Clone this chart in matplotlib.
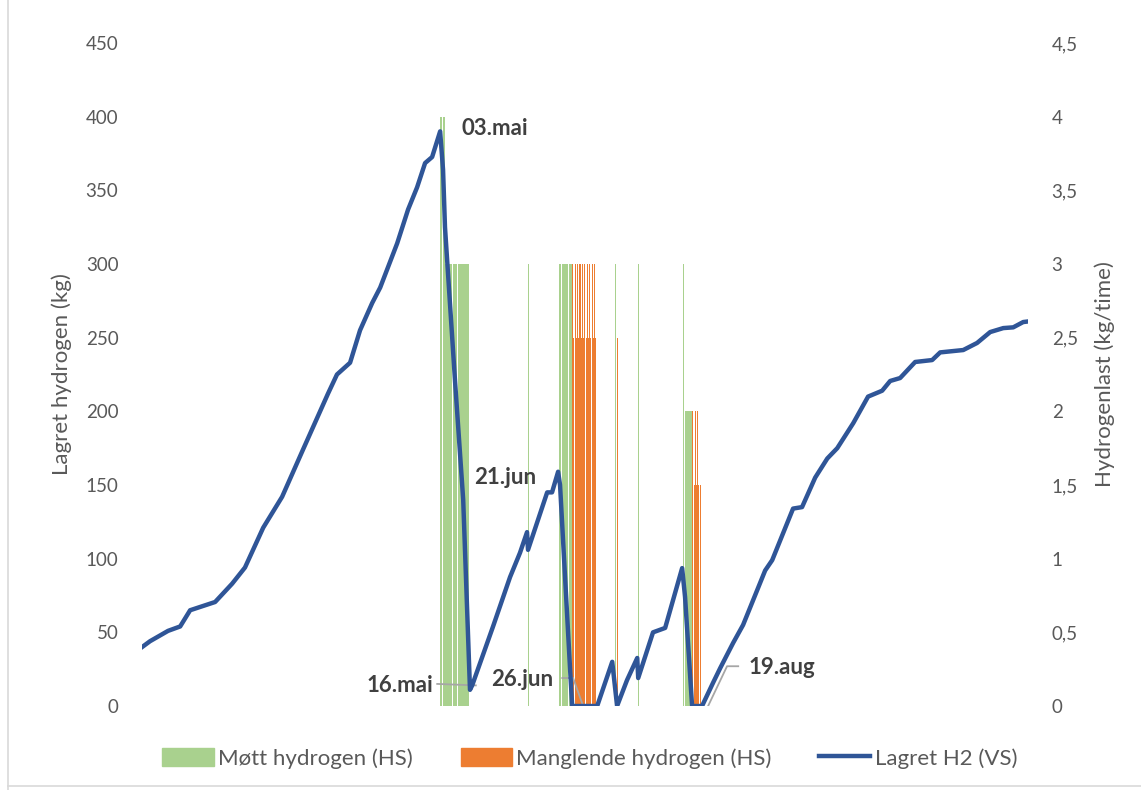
import matplotlib
matplotlib.use("Agg")
import matplotlib.pyplot as plt
from matplotlib.lines import Line2D
from matplotlib.patches import Patch

plt.rcParams["font.family"] = ["Lato", "DejaVu Sans"]

# Stored hydrogen over the year (day of year, kg)
store_day = [0, 3.3, 10.7, 15.7, 19.8, 30.1, 37.1, 42.4, 49.9, 57.7, 66.3, 76.6,
             80.3, 85.7, 89.8, 94.8, 98.1, 105.1, 109.6, 113.3, 116.6, 119.5,
             122.8, 124.0, 124.8, 129.0, 132.3, 135.1, 136.0, 144.6, 151.6,
             155.7, 158.6, 159.0, 166.9, 168.9, 171.4, 172.2, 176.3, 177.2,
             187.5, 193.7, 195.7, 199.8, 204.0, 204.4, 210.5, 215.5, 222.5,
             223.7, 226.6, 230.7, 235.3, 238.2, 243.5, 247.6, 256.7, 259.6,
             268.2, 271.9, 277.3, 282.3, 286.4, 293.0, 299.1, 304.9, 308.2,
             312.3, 318.5, 325.5, 328.8, 338.3, 344.0, 349.4, 354.8, 358.9,
             363.0, 365.0]
store_kg = [40, 44, 51, 54, 65, 70.6, 83, 94, 121, 142, 174, 212,
            225, 233, 255, 273.5, 284, 314, 337, 352, 368.5, 372.6,
            390, 364, 325, 219, 140, 11, 14, 54, 87.5,
            104, 118, 106, 145, 145, 159, 150, 26, 0,
            0, 30, 0, 17.6, 32.6, 19, 50, 53, 93.6,
            74, 0, 0, 16, 25.8, 42.8, 55, 92, 99,
            134, 135, 155, 168, 175, 192, 210, 214, 220.6,
            222.6, 233.5, 234.8, 240, 241.6, 246.4, 253.8, 256.5, 257,
            260.6, 261]

# Met hydrogen load (kg/time)
met_day = [122.9, 123.9, 125, 126, 127, 128, 129, 130, 131, 132, 133, 134,
           171.8, 172.8, 173.8, 174.8, 175.8, 176.6,
           223.6, 224.4, 225.2, 226.0]
met_load = [4, 4, 3, 3, 3, 3, 3, 3, 3, 3, 3, 3,
            3, 3, 3, 3, 3, 3,
            2, 2, 2, 2]
met_single_day = [159.0, 194.9, 204.4, 222.9]
met_single_load = [3, 3, 3, 3]

# Missing hydrogen load (kg/time)
miss_day = [177.2, 177.7, 178.2, 178.7, 179.2, 179.7, 180.2, 180.7, 181.2,
            181.7, 182.2, 182.7, 183.2, 183.7, 184.2, 184.7, 185.2, 185.7,
            186.2, 186.7, 195.5,
            226.7, 227.2, 227.7, 228.2, 228.7, 229.2, 229.7]
miss_load = [3, 2.5, 3, 2.5, 3, 2.5, 3, 2.5, 3,
             2.5, 3, 2.5, 3, 2.5, 3, 2.5, 3, 2.5,
             3, 2.5, 2.5,
             2, 1.5, 2, 1.5, 2, 1.5, 1.5]

GREEN = "#A9D18E"
ORANGE = "#ED7D31"
BLUE = "#2F5597"
TXT = "#595959"
LBL = "#404040"

fig = plt.figure(figsize=(11.41, 7.90), dpi=100)
ax = fig.add_axes([0.1245, 0.1063, 0.7765, 0.8393])
ax2 = ax.twinx()

ax2.bar(met_day, met_load, width=0.85, align="edge", color=GREEN, linewidth=0)
ax2.bar(met_single_day, met_single_load, width=0.35, align="edge", color=GREEN, linewidth=0)
ax2.bar(miss_day, miss_load, width=0.45, align="edge", color=ORANGE, linewidth=0)

ax.plot(store_day, store_kg, color=BLUE, lw=3.2, solid_joinstyle="round", zorder=5)
ax.set_zorder(ax2.get_zorder() + 1)
ax.patch.set_visible(False)

ax.set_xlim(0, 365)
ax.set_ylim(0, 450)
ax2.set_ylim(0, 4.5)
ax.set_yticks(range(0, 451, 50))
ax2.set_yticks([i * 0.5 for i in range(10)])
ax2.set_yticklabels([f"{i * 0.5:g}".replace(".", ",") for i in range(10)])
ax.set_xticks([])
for a in (ax, ax2):
    for s in a.spines.values():
        s.set_visible(False)
    a.tick_params(axis="y", length=0, labelsize=13.5, colors=TXT)
ax.tick_params(axis="y", pad=17)
ax2.tick_params(axis="y", pad=17)

ax.set_ylabel("Lagret hydrogen (kg)", fontsize=16, color=TXT, labelpad=10)
ax2.set_ylabel("Hydrogenlast (kg/time)", fontsize=16, color=TXT, labelpad=12)

# date labels with leader lines
kw = dict(fontsize=16, fontweight="bold", color=LBL, va="center")
ax.text(131.4, 392, "03.mai", ha="left", **kw)
ax.text(136.8, 155, "21.jun", ha="left", **kw)
ax.text(120.0, 14, "16.mai", ha="right", **kw)
ax.text(169.3, 18, "26.jun", ha="right", **kw)
ax.text(250.0, 26, "19.aug", ha="left", **kw)
lead = dict(color="#A6A6A6", lw=1.3, zorder=4)
ax.plot([121.6, 137.5], [15, 14], **lead)
ax.plot([173.1, 177.6, 181.7], [19, 19, 0], **lead)
ax.plot([245.6, 241.0, 233.2], [27, 27, 0], **lead)

handles = [Patch(color=GREEN, label="Møtt hydrogen (HS)"),
           Patch(color=ORANGE, label="Manglende hydrogen (HS)"),
           Line2D([], [], color=BLUE, lw=3.2, label="Lagret H2 (VS)")]
leg = fig.legend(handles=handles, loc="center", bbox_to_anchor=(0.517, 0.04),
                 ncol=3, frameon=False, fontsize=16, handlelength=2.3,
                 handleheight=0.9, columnspacing=2.15, handletextpad=0.2)
for t in leg.get_texts():
    t.set_color(TXT)

# light chart border
fig.add_artist(Line2D([8 / 1141, 8 / 1141], [0, 1], color="#D9D9D9", lw=1.2))
fig.add_artist(Line2D([8 / 1141, 1], [4 / 790, 4 / 790], color="#D9D9D9", lw=1.2))

fig.savefig("out.png", dpi=100)
